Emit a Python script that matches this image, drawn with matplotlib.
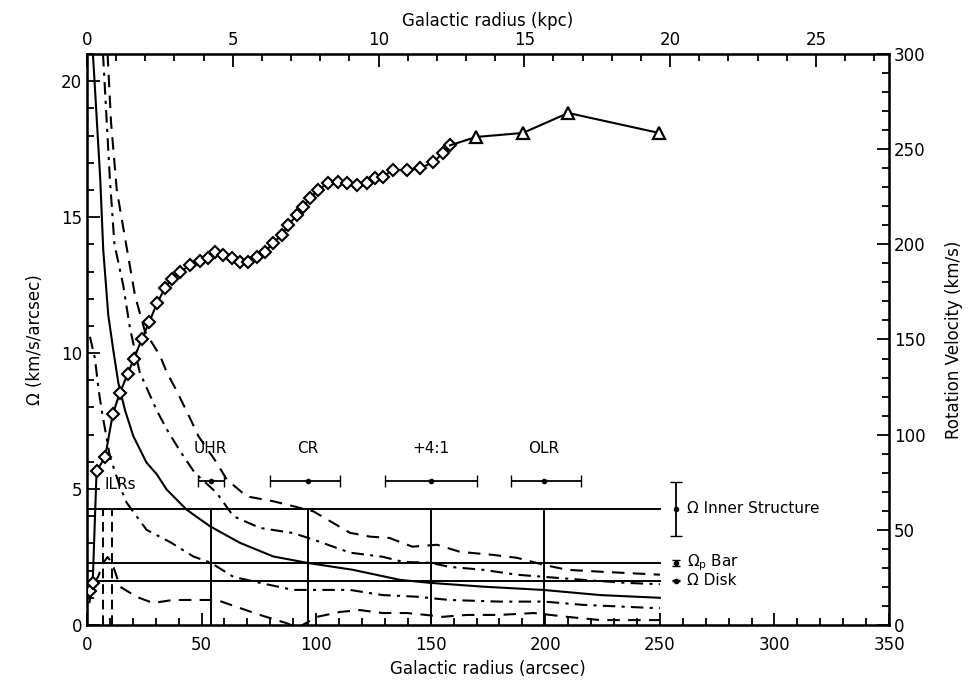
import numpy as np
import matplotlib
matplotlib.use("Agg")
import matplotlib.pyplot as plt
from matplotlib.ticker import MultipleLocator

# rotation curve (arcsec, km/s)
rc_r = [1.5, 2.5, 4.2, 7.9, 11.3, 14.4, 17.8, 20.5, 23.9, 27.1, 30.6, 34.0, 37.0, 40.6, 45.0,
        49.3, 52.8, 55.9, 59.4, 63.3, 66.8, 70.3, 74.2, 77.7, 81.2, 85.1, 87.7, 91.7,
        94.3, 97.3, 100.8, 105.2, 109.6, 113.5, 117.9, 122.3, 125.7, 129.0, 133.6,
        139.7, 145.3, 151.0, 155.4, 158.4]
rc_v = [18, 22, 81, 88, 111, 122, 132, 140, 150, 159, 169, 177, 182, 185.5, 189,
        191, 193, 196, 194.4, 192.8, 190.7, 190.7, 193.3, 196, 200.7, 205, 210, 215.4,
        219.6, 224.3, 228.5, 232.2, 232.8, 232.2, 231.2, 232.2, 235, 235.5, 239,
        239, 240, 243, 248, 252]
tri_r = [169.8, 190.2, 210.0, 249.7]
tri_v = [256.4, 258.5, 269.0, 258.5]

# angular frequency curves (km/s/arcsec)
om_r = [2.6, 4, 5.8, 7.1, 9.3, 11.5, 13.7, 16.6, 20.2, 26, 30.4, 34.8, 43.5, 53.7,
        66.8, 81.3, 96.5, 116, 136.6, 149.7, 172.8, 199, 224, 250]
om_v = [21, 19, 16.4, 13.8, 11.4, 10.1, 8.9, 7.9, 6.95, 5.97, 5.55, 4.98, 4.24, 3.63,
        3.02, 2.52, 2.28, 2.03, 1.66, 1.55, 1.41, 1.29, 1.1, 1.0]

up4_r = [7, 10, 12, 15.8, 18.8, 23, 30.4, 34.8, 40.6, 47, 56.6, 63.9, 75.5, 90, 98.8,
         114.8, 129, 138, 149.7, 158, 172.8, 187.5, 199.5, 216.5, 235, 250]
up4_v = [21, 16.4, 14.0, 12.5, 10.9, 9.3, 7.9, 7.2, 6.4, 5.6, 4.86, 4.0, 3.57, 3.38, 3.14,
         2.66, 2.51, 2.32, 2.29, 2.14, 2.03, 1.85, 1.77, 1.66, 1.55, 1.5]

up2_r = [9, 10.5, 13, 17.3, 21, 25.3, 31.9, 34.8, 39.2, 45, 48.6, 56.6, 61, 69.7, 81.3,
         90, 98.8, 107.5, 114.8, 123.5, 132, 142, 152.8, 162.8, 177, 187.7, 199.5,
         209.5, 224, 250]
up2_v = [21, 18.5, 16.0, 13.9, 12.1, 10.8, 9.9, 9.3, 8.6, 7.6, 6.95, 5.97, 5.35, 4.73, 4.55,
         4.37, 4.18, 3.75, 3.39, 3.25, 3.2, 2.88, 2.95, 2.69, 2.58, 2.47, 2.21,
         2.03, 1.96, 1.85]

lo4_r = [1.3, 3.5, 5, 6.4, 7.9, 10, 14.4, 17.3, 26, 36.7, 46.4, 54, 63.9, 75.5, 90, 105,
         114.8, 129, 144, 158, 180, 199.5, 216.5, 245.7, 250]
lo4_v = [10.6, 9.8, 8.7, 7.9, 7.2, 6.2, 5.09, 4.5, 3.5, 3.03, 2.52, 2.29, 1.77, 1.55, 1.29,
         1.29, 1.29, 1.1, 1.04, 0.92, 0.86, 0.86, 0.74, 0.63, 0.62]

lo2_r = [1, 2, 3, 5, 7, 9, 11, 14.4, 21.8, 28.8, 37.5, 46.2, 56.7, 65.5, 75.5, 87, 92,
         100.4, 110.5, 119, 129, 139.6, 148, 155, 165.7, 180, 195, 209.5, 224, 250]
lo2_v = [0.8, 1.2, 1.5, 1.8, 2.28, 2.5, 2.28, 1.41, 1.03, 0.81, 0.92, 0.92, 0.92, 0.66,
         0.37, 0.07, -0.1, 0.3, 0.48, 0.55, 0.44, 0.44, 0.37, 0.3, 0.37, 0.37, 0.44,
         0.3, 0.18, 0.18]

# pattern speeds
om_inner, om_inner_err = 4.27, 1.0
om_bar, om_bar_err = 2.28, 0.1
om_disk, om_disk_err = 1.63, 0.03

# resonances: name, radius, lower, upper
res_names = ["UHR", "CR", "+4:1", "OLR"]
res_r = [54, 96.5, 150, 199.5]
res_lo = [48.5, 80, 130, 185]
res_hi = [59.8, 110.4, 170, 215.6]
ilr_r = [7, 11]

arcsec_to_kpc = 0.0786

plt.rcParams['font.family'] = 'DejaVu Sans'
fig = plt.figure(figsize=(9.76, 6.85), dpi=100)
ax = fig.add_axes([0.0891, 0.0876, 0.8218, 0.8336])

lw = 1.5
dashdot = (0, (6, 3, 1.5, 3))
dashed = (0, (6, 4))
ax.plot(om_r, om_v, color='k', lw=lw)
ax.plot(up4_r, up4_v, color='k', lw=lw, ls=dashdot)
ax.plot(lo4_r, lo4_v, color='k', lw=lw, ls=dashdot)
ax.plot(up2_r, up2_v, color='k', lw=lw, ls=dashed)
ax.plot(lo2_r, lo2_v, color='k', lw=lw, ls=dashed)

# pattern speed lines
for y in [om_inner, om_bar, om_disk]:
    ax.plot([0, 250], [y, y], color='k', lw=1.4)

# resonance markers
for name, r, lo, hi in zip(res_names, res_r, res_lo, res_hi):
    ax.plot([r, r], [0, om_inner], color='k', lw=1.4)
    ax.errorbar(r, 5.29, xerr=[[r - lo], [hi - r]], fmt='o', ms=3, color='k',
                capsize=4, lw=1.3)
    ax.text(r, 6.2, name, ha='center', va='bottom', fontsize=11)
for r in ilr_r:
    ax.plot([r, r], [0, om_inner], color='k', lw=1.4, ls=(0, (5, 3)))
ax.text(14.5, 5.17, "ILRs", ha='center', va='center', fontsize=11)

# legend-like markers
ax.errorbar(257, om_inner, yerr=om_inner_err, fmt='o', ms=3, color='k', capsize=4, lw=1.3)
ax.errorbar(257, om_bar, yerr=om_bar_err, fmt='o', ms=3, color='k', capsize=3, lw=1.3)
ax.errorbar(257, om_disk, yerr=om_disk_err, fmt='o', ms=3, color='k', capsize=3, lw=1.3)
ax.text(262, om_inner, "Ω Inner Structure", va='center', fontsize=11)
ax.text(262, om_bar, r"$\Omega_{\rm p}$ Bar", va='center', fontsize=11)
ax.text(262, om_disk, "Ω Disk", va='center', fontsize=11)

ax.set_xlim(0, 350)
ax.set_ylim(0, 21)
ax.xaxis.set_major_locator(MultipleLocator(50))
ax.xaxis.set_minor_locator(MultipleLocator(10))
ax.yaxis.set_major_locator(MultipleLocator(5))
ax.yaxis.set_minor_locator(MultipleLocator(1))
ax.tick_params(which='both', direction='in', labelsize=12, width=1.3)
ax.tick_params(axis='x', pad=8)
ax.tick_params(which='major', length=9)
ax.tick_params(which='minor', length=5)
ax.set_xlabel("Galactic radius (arcsec)", fontsize=12, labelpad=4)
ax.set_ylabel("Ω (km/s/arcsec)", fontsize=12, labelpad=12)
for s in ax.spines.values():
    s.set_linewidth(1.8)

# rotation velocity axis
ax2 = ax.twinx()
ax2.plot(rc_r, rc_v, color='k', lw=1.5, marker='D', ms=6, mfc='white', mec='k', mew=1.5)
ax2.plot([rc_r[-1]] + tri_r, [rc_v[-1]] + tri_v, color='k', lw=1.5)
ax2.plot(tri_r, tri_v, ls='none', marker='^', ms=9, mfc='white', mec='k', mew=1.6)
ax2.set_ylim(0, 300)
ax2.yaxis.set_major_locator(MultipleLocator(50))
ax2.yaxis.set_minor_locator(MultipleLocator(10))
ax2.tick_params(which='both', direction='in', labelsize=12, width=1.3)
ax2.tick_params(which='major', length=9)
ax2.tick_params(which='minor', length=5)
ax2.set_ylabel("Rotation Velocity (km/s)", fontsize=12, labelpad=14)

# kpc axis on top
ax3 = ax.twiny()
ax3.set_xlim(0, 350 * arcsec_to_kpc)
ax3.xaxis.set_major_locator(MultipleLocator(5))
ax3.xaxis.set_minor_locator(MultipleLocator(1))
ax3.tick_params(which='both', direction='in', labelsize=12, width=1.3)
ax3.tick_params(which='major', length=9)
ax3.tick_params(which='minor', length=5)
ax3.set_xlabel("Galactic radius (kpc)", fontsize=12)

fig.savefig("out.png", dpi=100)
